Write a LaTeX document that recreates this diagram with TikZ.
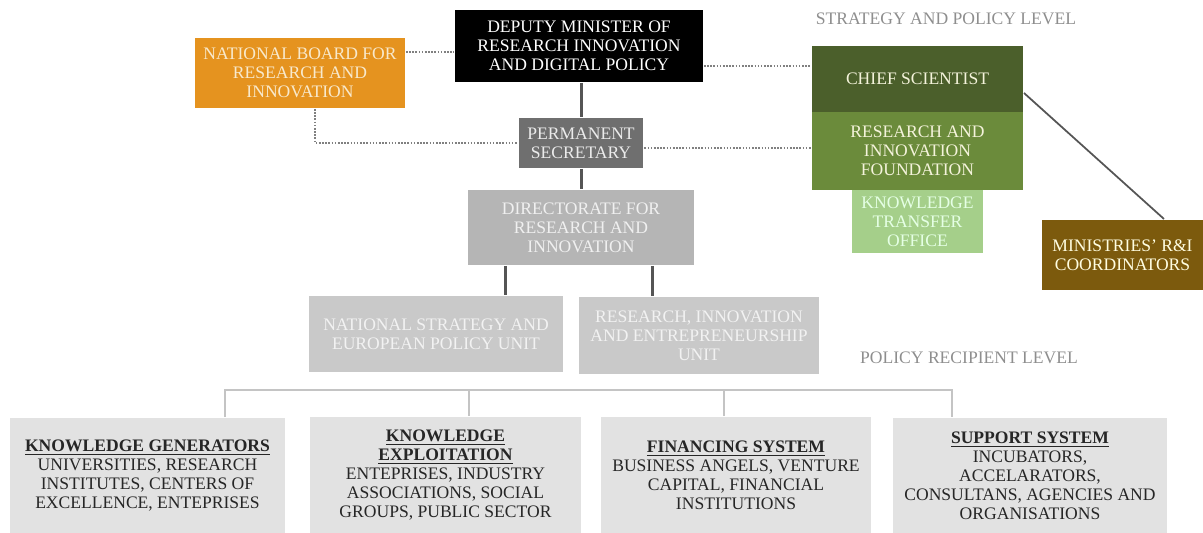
\documentclass[tikz,border=0pt]{standalone}
\usepackage{fontspec}
\setmainfont{Liberation Serif}
\usetikzlibrary{positioning}

\definecolor{boardorange}{HTML}{E5931F}
\definecolor{boardtext}{HTML}{F8E9CC}
\definecolor{secgray}{HTML}{6F6F6F}
\definecolor{dirgray}{HTML}{B5B5B5}
\definecolor{unitgray}{HTML}{C9C9C9}
\definecolor{recipgray}{HTML}{E2E2E2}
\definecolor{chiefgreen}{HTML}{4B5F2B}
\definecolor{foundgreen}{HTML}{6B8B3B}
\definecolor{ktogreen}{HTML}{A5CF8A}
\definecolor{ministbrown}{HTML}{7C5A0D}
\definecolor{linkgray}{HTML}{555555}
\definecolor{dotgray}{HTML}{808080}
\definecolor{levelgray}{HTML}{8E8E8E}
\definecolor{bracketgray}{HTML}{C4C4C4}

\begin{document}
\begin{tikzpicture}[x = 0.02cm, y = -0.02cm, line width = 0.4mm,
        box/.style = {rectangle, align = center, inner sep = 0pt,
            font = \fontsize{10}{10.8}\selectfont},
        link/.style = {draw = linkgray, line width = 0.6mm},
        dotlink/.style = {draw = dotgray, line width = 0.45mm,
            dash pattern = on 0.9pt off 0.9pt},
        bracket/.style = {draw = bracketgray, line width = 0.25mm},
        level/.style = {text = levelgray, font = \fontsize{10}{10.8}\selectfont}]

        \useasboundingbox (0, 0) rectangle (1203, 533);

        % Strategy and policy level.
        \node[box, fill = black, text = white, minimum width = 4.96cm, minimum height = 1.44cm]
            (minister) at (579, 46) {DEPUTY MINISTER OF\\RESEARCH INNOVATION\\AND DIGITAL POLICY};
        \node[box, fill = boardorange, text = boardtext, minimum width = 4.2cm, minimum height = 1.4cm]
            (board) at (300, 73) {NATIONAL BOARD FOR\\RESEARCH AND\\INNOVATION};
        \node[box, fill = secgray, text = white!92!black, minimum width = 2.5cm, minimum height = 1.0cm]
            (secretary) at (581, 143) {PERMANENT\\SECRETARY};
        \node[box, fill = dirgray, text = white!94!black, minimum width = 4.52cm, minimum height = 1.5cm]
            (directorate) at (581, 227.5) {DIRECTORATE FOR\\RESEARCH AND\\INNOVATION};
        \node[box, fill = unitgray, text = white!95!black, minimum width = 5.08cm, minimum height = 1.52cm]
            (strategy) at (436, 334) {NATIONAL STRATEGY AND\\EUROPEAN POLICY UNIT};
        \node[box, fill = unitgray, text = white!95!black, minimum width = 4.8cm, minimum height = 1.54cm]
            (entrepreneur) at (699, 335.5) {RESEARCH, INNOVATION\\AND ENTREPRENEURSHIP\\UNIT};

        % Green column on the right.
        \node[box, fill = chiefgreen, text = white!90!olive, minimum width = 4.22cm, minimum height = 1.32cm]
            (chief) at (917.5, 79) {CHIEF SCIENTIST};
        \node[box, fill = foundgreen, text = white!90!olive, minimum width = 4.22cm, minimum height = 1.56cm]
            (foundation) at (917.5, 151) {RESEARCH AND\\INNOVATION\\FOUNDATION};
        \node[box, fill = ktogreen, text = white!90!green, minimum width = 2.62cm, minimum height = 1.26cm]
            (transfer) at (917.5, 221.5) {KNOWLEDGE\\TRANSFER\\OFFICE};
        \node[box, fill = ministbrown, text = white!88!yellow, minimum width = 3.22cm, minimum height = 1.4cm]
            (ministries) at (1122.5, 255) {MINISTRIES' R\&I\\COORDINATORS};

        \node[level] (stratlevel) at (946, 19) {STRATEGY AND POLICY LEVEL};
        \node[level] (reciplevel) at (969, 358) {POLICY RECIPIENT LEVEL};

        % Solid and dotted links.
        \draw[link] (minister.south -| secretary.north) to (secretary.north);
        \draw[link] (secretary.south) to (directorate.north);
        \draw[link] (directorate.south -| 505, 0) to (strategy.north -| 505, 0);
        \draw[link] (directorate.south -| 652, 0) to (entrepreneur.north -| 652, 0);
        \draw[draw = linkgray, line width = 0.35mm] (chief.east |- 0, 93) to (ministries.north -| 1164, 0);

        \draw[dotlink] (board.east |- 0, 52) to (minister.west |- 0, 52);
        \draw[dotlink] (board.south -| 315, 0) |- (secretary.west);
        \draw[dotlink] (minister.east |- 0, 66) to (chief.west |- 0, 66);
        \draw[dotlink] (secretary.east |- 0, 148) to (foundation.west |- 0, 148);

        % Policy recipient level.
        \node[box, fill = recipgray, text = black!85, minimum width = 5.5cm, minimum height = 2.3cm]
            (generators) at (147.5, 475.5)
            {\underline{\textbf{KNOWLEDGE GENERATORS}}\\UNIVERSITIES, RESEARCH\\INSTITUTES, CENTERS OF\\EXCELLENCE, ENTEPRISES};
        \node[box, fill = recipgray, text = black!85, minimum width = 5.42cm, minimum height = 2.32cm]
            (exploitation) at (445.5, 475)
            {\underline{\textbf{KNOWLEDGE}}\\\underline{\textbf{EXPLOITATION}}\\ENTEPRISES, INDUSTRY\\ASSOCIATIONS, SOCIAL\\GROUPS, PUBLIC SECTOR};
        \node[box, fill = recipgray, text = black!85, minimum width = 5.4cm, minimum height = 2.32cm]
            (financing) at (736, 475)
            {\underline{\textbf{FINANCING SYSTEM}}\\BUSINESS ANGELS, VENTURE\\CAPITAL, FINANCIAL\\INSTITUTIONS};
        \node[box, fill = recipgray, text = black!85, minimum width = 5.48cm, minimum height = 2.3cm]
            (support) at (1030, 475.5)
            {\underline{\textbf{SUPPORT SYSTEM}}\\INCUBATORS,\\ACCELARATORS,\\CONSULTANS, AGENCIES AND\\ORGANISATIONS};

        % Bracket over the four recipient boxes.
        \coordinate (bar) at (0, 390);
        \draw[bracket] (generators.north -| 225, 0) |- (bar -| 952, 0) to (support.north -| 952, 0);
        \draw[bracket] (exploitation.north -| 469, 0) to (bar -| 469, 0);
        \draw[bracket] (financing.north -| 724, 0) to (bar -| 724, 0);
    \end{tikzpicture}
\end{document}
